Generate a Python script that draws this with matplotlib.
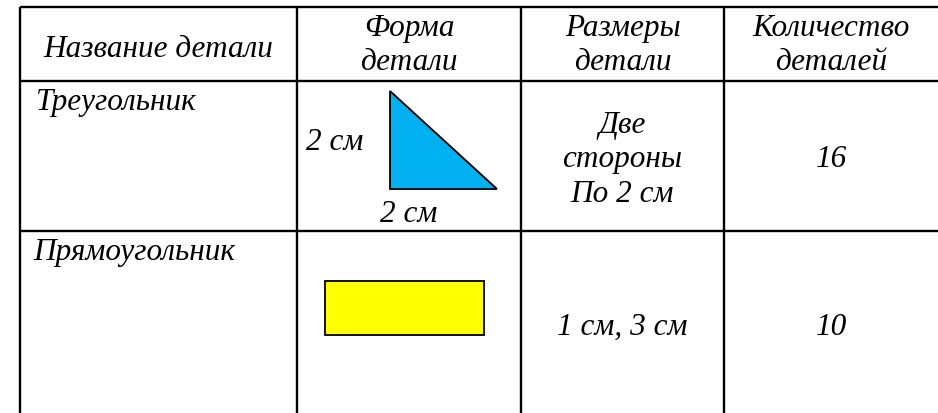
import matplotlib
matplotlib.use("Agg")
import matplotlib.pyplot as plt
from matplotlib.patches import Polygon, Rectangle

# table content
headers = ["Название детали", "Форма\nдетали", "Размеры\nдетали", "Количество\nдеталей"]
part_names = ["Треугольник", "Прямоугольник"]
part_sizes = ["Две\nстороны\nПо 2 см", "1 см, 3 см"]
part_counts = ["16", "10"]
side_labels = ["2 см", "2 см"]

# layout in pixels
col_x = [20, 297, 521, 724, 938]
row_y = [8, 82, 232, 420]
LINE = 34.5

fig = plt.figure(figsize=(9.38, 4.14), dpi=100)
ax = fig.add_axes([0, 0, 1, 1])
ax.set_xlim(0, 938)
ax.set_ylim(414, 0)
ax.axis("off")

lw = 1.7
for y in row_y[:-1]:
    ax.plot([col_x[0], col_x[-1]], [y, y], color="black", lw=lw, solid_capstyle="butt")
for x in col_x[:-1]:
    ax.plot([x, x], [row_y[0], row_y[-1]], color="black", lw=lw, solid_capstyle="butt")

font = dict(family="Liberation Serif", style="italic", fontsize=22.5, color="black")


def put_lines(cx, first_base, txt):
    # one text per line so each baseline sits where it should
    for k, line in enumerate(txt.split("\n")):
        ax.text(cx, first_base + k * LINE, line, ha="center", va="baseline", **font)


# header row
for i, h in enumerate(headers):
    cx = (col_x[i] + col_x[i + 1]) / 2
    if "\n" in h:
        put_lines(cx, 36, h)
    else:
        ax.text(cx, 57, h, ha="center", va="baseline", **font)

# names
ax.text(36, 110, part_names[0], ha="left", va="baseline", **font)
ax.text(33, 260, part_names[1], ha="left", va="baseline", **font)

# sizes and counts
c3 = (col_x[2] + col_x[3]) / 2
c4 = (col_x[3] + col_x[4]) / 2
put_lines(c3, 133, part_sizes[0])
ax.text(c4 + 1, 167, part_counts[0], ha="center", va="baseline", **font)
put_lines(c3, 335, part_sizes[1])
ax.text(c4 + 1, 335, part_counts[1], ha="center", va="baseline", **font)

# shapes
tri = Polygon([[390, 92], [390, 190], [497, 190]], closed=True,
              facecolor="#00B0F0", edgecolor="black", lw=1.3)
ax.add_patch(tri)
ax.text(306, 150, side_labels[0], ha="left", va="baseline", **font)
ax.text(409, 222, side_labels[1], ha="center", va="baseline", **font)

rect = Rectangle((325, 282), 159, 54, facecolor="#FFFF00", edgecolor="black", lw=1.3)
ax.add_patch(rect)

fig.savefig("out.png", dpi=100, facecolor="white")
